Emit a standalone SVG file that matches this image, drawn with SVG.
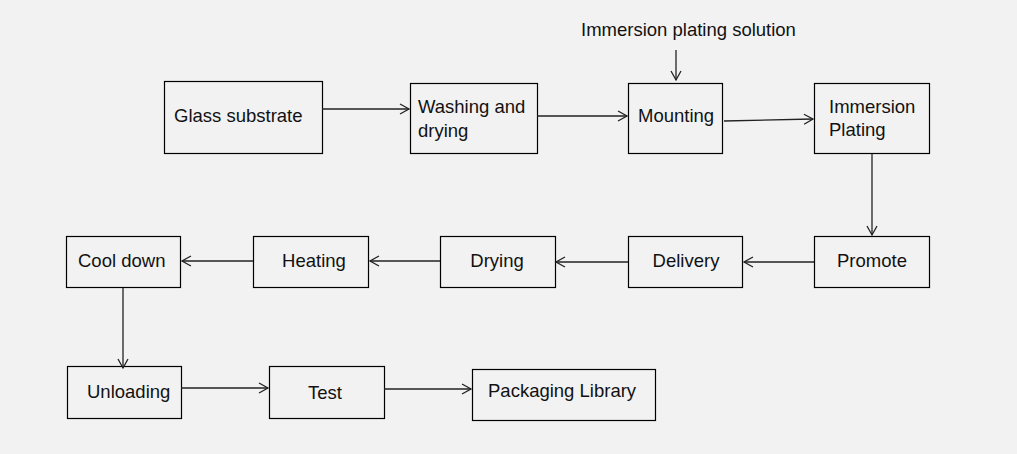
<svg xmlns="http://www.w3.org/2000/svg" width="1017" height="454" viewBox="0 0 1017 454">
<style>
.box{fill:none;stroke:#000;stroke-width:1.2}
.t{font-family:"Liberation Sans",Arial,sans-serif;font-size:18.5px;fill:#111}
.c{text-anchor:middle}
.ln{fill:none;stroke:#222;stroke-width:1.3;marker-end:url(#ah)}
</style>
<defs>
<marker id="ah" markerWidth="12" markerHeight="12" refX="10" refY="6" orient="auto" markerUnits="userSpaceOnUse">
<path d="M1,1 L10,6 L1,11" fill="none" stroke="#222" stroke-width="1.3"/>
</marker>
</defs>
<rect width="1017" height="454" fill="#f2f2f2"/>
<text class="t" x="581" y="36">Immersion plating solution</text>
<g id="glass"><rect class="box" x="164.5" y="81.5" width="158" height="72"/><text class="t" x="174" y="122">Glass substrate</text></g>
<g id="washing"><rect class="box" x="410.5" y="83.5" width="127" height="70"/><text class="t" x="418" y="113">Washing and</text><text class="t" x="418" y="137">drying</text></g>
<g id="mounting"><rect class="box" x="628.5" y="83.5" width="94" height="70"/><text class="t" x="638" y="122">Mounting</text></g>
<g id="immersion"><rect class="box" x="814.5" y="83.5" width="115" height="70"/><text class="t" x="829" y="113">Immersion</text><text class="t" x="829" y="136">Plating</text></g>
<g id="cooldown"><rect class="box" x="66.5" y="236.5" width="114" height="51"/><text class="t" x="78" y="267">Cool down</text></g>
<g id="heating"><rect class="box" x="253.5" y="236.5" width="115" height="51"/><text class="t c" x="314" y="267">Heating</text></g>
<g id="drying"><rect class="box" x="440.5" y="236.5" width="115" height="51"/><text class="t c" x="497" y="267">Drying</text></g>
<g id="delivery"><rect class="box" x="628.5" y="236.5" width="114" height="51"/><text class="t c" x="686" y="267">Delivery</text></g>
<g id="promote"><rect class="box" x="814.5" y="236.5" width="115" height="51"/><text class="t c" x="872" y="267">Promote</text></g>
<g id="unloading"><rect class="box" x="67.5" y="366.5" width="114" height="52"/><text class="t" x="87" y="398">Unloading</text></g>
<g id="test"><rect class="box" x="269.5" y="366.5" width="115" height="52"/><text class="t c" x="325" y="399">Test</text></g>
<g id="packaging"><rect class="box" x="472.5" y="369.5" width="183" height="51"/><text class="t" x="488" y="397">Packaging Library</text></g>
<g id="connectors">
<line class="ln" x1="322" y1="109" x2="409" y2="109"/>
<line class="ln" x1="537" y1="116" x2="627" y2="116"/>
<line class="ln" x1="676" y1="50" x2="676" y2="80"/>
<line class="ln" x1="724" y1="121" x2="813" y2="119"/>
<line class="ln" x1="872" y1="154" x2="872" y2="235"/>
<line class="ln" x1="814" y1="262" x2="744" y2="262"/>
<line class="ln" x1="628" y1="262" x2="556" y2="262"/>
<line class="ln" x1="440" y1="261" x2="370" y2="261"/>
<line class="ln" x1="253" y1="261" x2="182" y2="261"/>
<line class="ln" x1="123" y1="288" x2="123" y2="368"/>
<line class="ln" x1="181" y1="388" x2="268" y2="388"/>
<line class="ln" x1="384" y1="389" x2="471" y2="389"/>
</g>
</svg>
